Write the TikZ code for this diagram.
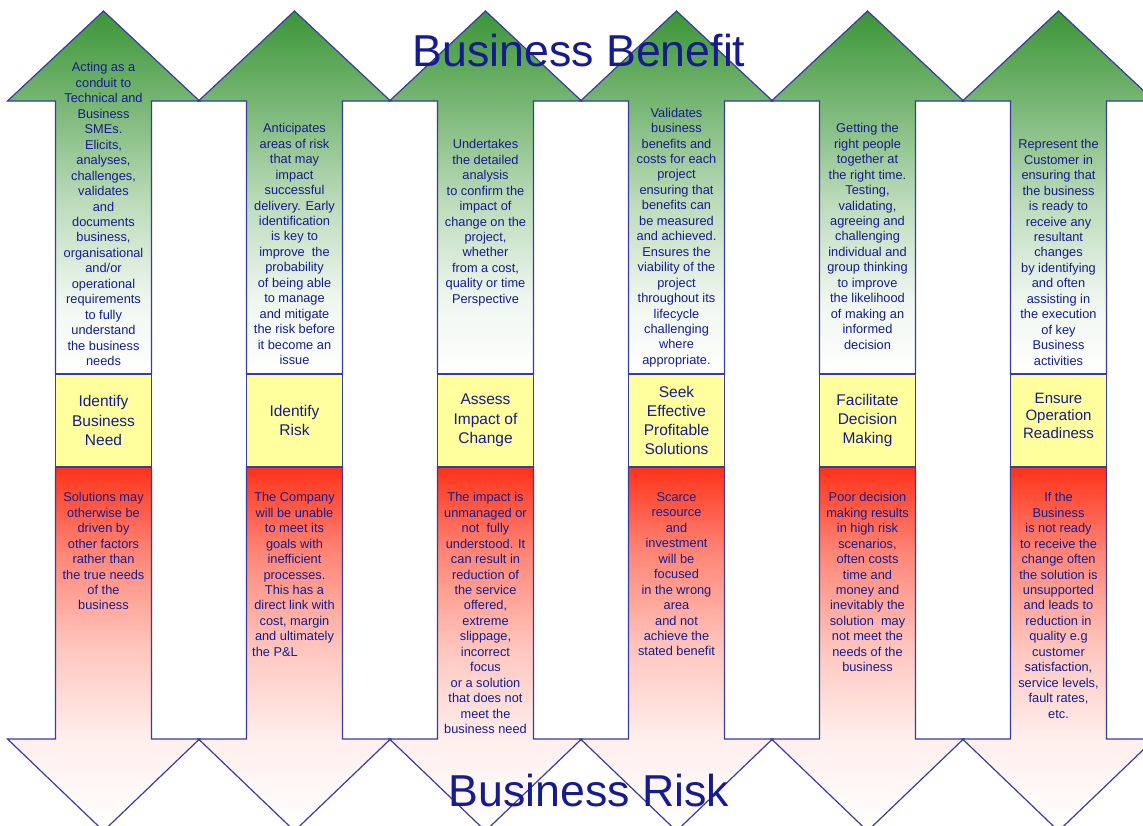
\documentclass[tikz,border=0pt]{standalone}
\usepackage{fontspec}
\setmainfont{Liberation Sans}
\definecolor{arrowline}{RGB}{55,60,160}
\definecolor{textnavy}{RGB}{22,28,140}
\definecolor{stageyellow}{RGB}{255,255,158}
\definecolor{benefitgreen}{RGB}{60,150,55}
\definecolor{riskred}{RGB}{255,50,25}
\pgfdeclareverticalshading{benefitfade}{100bp}{color(0bp)=(white); color(25bp)=(white); color(35bp)=(benefitgreen!8); color(49bp)=(benefitgreen!35); color(62.5bp)=(benefitgreen!70); color(75bp)=(benefitgreen); color(100bp)=(benefitgreen)}
\pgfdeclareverticalshading{riskfade}{100bp}{color(0bp)=(white); color(25bp)=(white); color(37.5bp)=(riskred!8); color(50bp)=(riskred!28); color(63.5bp)=(riskred!60); color(75bp)=(riskred); color(100bp)=(riskred)}

\begin{document}
\begin{tikzpicture}[x=1pt, y=-1pt,
  uparrow/.style={draw=arrowline, line width=1.2pt, shade, shading=benefitfade},
  downarrow/.style={draw=arrowline, line width=1.2pt, shade, shading=riskfade},
  stagebox/.style={draw=arrowline, line width=1.2pt, fill=stageyellow, minimum width=96pt, minimum height=93pt, inner sep=0pt, align=center, text=textnavy, font=\fontsize{15.5}{19.3}\selectfont},
  uptext/.style={anchor=north, align=center, inner sep=0pt, text=textnavy, font=\fontsize{12.8}{15.45}\selectfont},
  downtext/.style={uptext},
  bigtitle/.style={inner sep=0pt, text=textnavy, font=\fontsize{44.7}{50}\selectfont}]
\clip (0,0) rectangle (1143,825);
\fill[white] (0,0) rectangle (1143,825);

\draw[uparrow] (55.5,374) -- (55.5,101) -- (7.5,101) -- (103.5,11) -- (199.5,101) -- (151.5,101) -- (151.5,374) -- cycle;
\draw[uparrow] (246.5,374) -- (246.5,101) -- (198.5,101) -- (294.5,11) -- (390.5,101) -- (342.5,101) -- (342.5,374) -- cycle;
\draw[uparrow] (437.5,374) -- (437.5,101) -- (389.5,101) -- (485.5,11) -- (581.5,101) -- (533.5,101) -- (533.5,374) -- cycle;
\draw[uparrow] (628.5,374) -- (628.5,101) -- (580.5,101) -- (676.5,11) -- (772.5,101) -- (724.5,101) -- (724.5,374) -- cycle;
\draw[uparrow] (819.5,374) -- (819.5,101) -- (771.5,101) -- (867.5,11) -- (963.5,101) -- (915.5,101) -- (915.5,374) -- cycle;
\draw[uparrow] (1010.5,374) -- (1010.5,101) -- (962.5,101) -- (1058.5,11) -- (1154.5,101) -- (1106.5,101) -- (1106.5,374) -- cycle;

\draw[downarrow] (55.5,467) -- (55.5,739) -- (7.5,739) -- (103.5,831) -- (199.5,739) -- (151.5,739) -- (151.5,467) -- cycle;
\draw[downarrow] (246.5,467) -- (246.5,739) -- (198.5,739) -- (294.5,831) -- (390.5,739) -- (342.5,739) -- (342.5,467) -- cycle;
\draw[downarrow] (437.5,467) -- (437.5,739) -- (389.5,739) -- (485.5,831) -- (581.5,739) -- (533.5,739) -- (533.5,467) -- cycle;
\draw[downarrow] (628.5,467) -- (628.5,739) -- (580.5,739) -- (676.5,831) -- (772.5,739) -- (724.5,739) -- (724.5,467) -- cycle;
\draw[downarrow] (819.5,467) -- (819.5,739) -- (771.5,739) -- (867.5,831) -- (963.5,739) -- (915.5,739) -- (915.5,467) -- cycle;
\draw[downarrow] (1010.5,467) -- (1010.5,739) -- (962.5,739) -- (1058.5,831) -- (1154.5,739) -- (1106.5,739) -- (1106.5,467) -- cycle;

\node[stagebox] (need) at (103.5,420.5) {Identify\\Business\\Need};
\node[stagebox] (risk) at (294.5,420.5) {Identify\\Risk};
\node[stagebox] (impact) at (485.5,420.5) {Assess\\Impact of\\Change};
\node[stagebox] (solutions) at (676.5,420.5) {Seek\\Effective\\Profitable\\Solutions};
\node[stagebox] (decision) at (867.5,420.5) {Facilitate\\Decision\\Making};
\node[stagebox, font=\fontsize{15}{17.6}\selectfont] (readiness) at (1058.5,420.5) {Ensure\\Operation\\Readiness\\[-7.6pt]};

\node[uptext] (needup) at (103.5,62.5) {Acting as a\\conduit to\\Technical and\\Business\\SMEs.\\Elicits,\\analyses,\\challenges,\\validates\\and\\documents\\business,\\organisational\\and/or\\operational\\requirements\\to fully\\understand\\the business\\needs};
\node[uptext] (riskup) at (294.5,123.3) {Anticipates\\areas of risk\\that may\\impact\\successful\\delivery. Early\\identification\\is key to\\improve\ \ the\\probability\\of being able\\to manage\\and mitigate\\the risk before\\it become an\\issue};
\node[uptext] (impactup) at (485.5,139.3) {Undertakes\\the detailed\\analysis\\to confirm the\\impact of\\change on the\\project,\\whether\\from a cost,\\quality or time\\Perspective};
\node[uptext] (solutionsup) at (676.5,107.7) {Validates\\business\\benefits and\\costs for each\\project\\ensuring that\\benefits can\\be measured\\and achieved.\\Ensures the\\viability of the\\project\\throughout its\\lifecycle\\challenging\\where\\appropriate.};
\node[uptext] (decisionup) at (867.5,123.3) {Getting the\\right people\\together at\\the right time.\\Testing,\\validating,\\agreeing and\\challenging\\individual and\\group thinking\\to improve\\the likelihood\\of making an\\informed\\decision};
\node[uptext] (readinessup) at (1058.5,139.3) {Represent the\\Customer in\\ensuring that\\the business\\is ready to\\receive any\\resultant\\changes\\by identifying\\and often\\assisting in\\the execution\\of key\\Business\\activities};

\node[downtext] (needdown) at (103.5,492.3) {Solutions may\\otherwise be\\driven by\\other factors\\rather than\\the true needs\\of the\\business};
\node[downtext] (riskdown) at (294.5,492.3) {The Company\\will be unable\\to meet its\\goals with\\inefficient\\processes.\\This has a\\direct link with\\cost, margin\\and ultimately\\the P\&L\hspace*{39pt}};
\node[downtext] (impactdown) at (485.5,492.3) {The impact is\\unmanaged or\\not\ \ fully\\understood. It\\can result in\\reduction of\\the service\\offered,\\extreme\\slippage,\\incorrect\\focus\\or a solution\\that does not\\meet the\\business need};
\node[downtext] (solutionsdown) at (676.5,492.3) {Scarce\\resource\\and\\investment\\will be\\focused\\in the wrong\\area\\and not\\achieve the\\stated benefit};
\node[downtext] (decisiondown) at (867.5,492.3) {Poor decision\\making results\\in high risk\\scenarios,\\often costs\\time and\\money and\\inevitably the\\solution\ \ may\\not meet the\\needs of the\\business};
\node[downtext] (readinessdown) at (1058.5,492.3) {If the\\Business\\is not ready\\to receive the\\change often\\the solution is\\unsupported\\and leads to\\reduction in\\quality e.g\\customer\\satisfaction,\\service levels,\\fault rates,\\etc.};

\node[bigtitle] (benefit) at (579,51) {Business Benefit};
\node[bigtitle] (bizrisk) at (589,791) {Business Risk};
\end{tikzpicture}
\end{document}
